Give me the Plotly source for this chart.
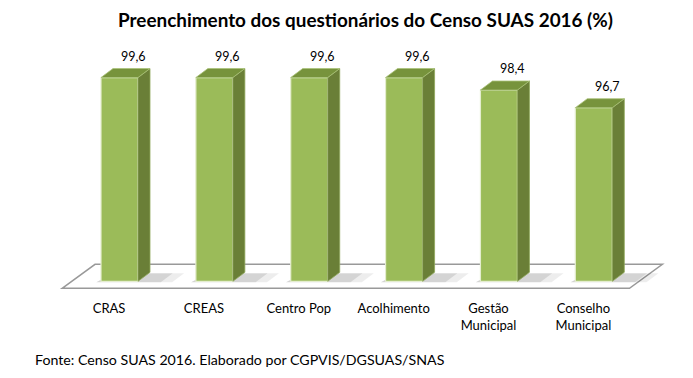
import plotly.graph_objects as go

categories = ["CRAS", "CREAS", "Centro Pop", "Acolhimento", "Gestão<br>Municipal", "Conselho<br>Municipal"]
values = [99.6, 99.6, 99.6, 99.6, 98.4, 96.7]
labels = ["99,6", "99,6", "99,6", "99,6", "98,4", "96,7"]
title = "Preenchimento dos questionários do Censo SUAS 2016 (%)"
source = "Fonte: Censo SUAS 2016. Elaborado por CGPVIS/DGSUAS/SNAS"

BASE = 80.0
HW = 0.195          # half width of bar front
DX = 0.1265         # depth offset (x units)
DY = 0.866          # depth offset (y units)
FRONT = "#9BBB59"
SIDE = "#6A7F37"
TOP = "#77933C"
FONT = "Lato"

xs = list(range(len(categories)))

fig = go.Figure()

# front faces
fig.add_trace(go.Bar(
    x=xs, y=[v - BASE for v in values], base=BASE, width=2 * HW,
    marker=dict(color=FRONT, line=dict(color="#E4EDCF", width=1.2)),
    hoverinfo="skip", showlegend=False,
))

# side and top faces
for i, v in zip(xs, values):
    fig.add_trace(go.Scatter(
        x=[i + HW, i + HW + DX, i + HW + DX, i + HW, i + HW],
        y=[BASE, BASE + DY, v + DY, v, BASE],
        fill="toself", fillcolor=SIDE, mode="lines",
        line=dict(color="#8FA85A", width=0.8),
        hoverinfo="skip", showlegend=False,
    ))
    fig.add_trace(go.Scatter(
        x=[i - HW, i - HW + DX, i + HW + DX, i + HW, i - HW],
        y=[v, v + DY, v + DY, v, v],
        fill="toself", fillcolor=TOP, mode="lines",
        line=dict(color="#A9C178", width=0.8),
        hoverinfo="skip", showlegend=False,
    ))

shapes = []
# floor
fx0, fx1 = xs[0] - 0.605, xs[-1] + 0.376
fyf, fyb = BASE - 0.67, BASE + 1.64
fdx = 0.347
shapes.append(dict(
    type="path", xref="x", yref="y", layer="below",
    path=f"M {fx0},{fyf} L {fx0+fdx},{fyb} L {fx1+fdx},{fyb} L {fx1},{fyf} Z",
    fillcolor="white", line=dict(color="#999999", width=1.5),
))
# soft shadows (two layers)
for i in xs:
    for ext, alpha in ((0.36, 0.07), (0.24, 0.10)):
        shapes.append(dict(
            type="path", xref="x", yref="y", layer="below",
            path=(f"M {i-HW-0.05},{BASE-0.1} L {i+HW+ext},{BASE-0.1} "
                  f"L {i+HW+ext+DX},{BASE+DY*0.9} L {i-HW+DX},{BASE+DY*0.9} Z"),
            fillcolor=f"rgba(0,0,0,{alpha})", line=dict(width=0),
        ))

annotations = []
for i, v, t in zip(xs, values, labels):
    annotations.append(dict(
        x=i + DX / 2 + 0.08, y=v + DY, text=t, showarrow=False,
        xref="x", yref="y", yanchor="bottom", yshift=3,
        font=dict(family=FONT, size=12.5, color="black"),
    ))
annotations.append(dict(
    x=24.7 / 683, y=-0.2118, xref="paper", yref="paper",
    xanchor="left", yanchor="middle", text=source, showarrow=False,
    font=dict(family=FONT, size=14.2, color="black"),
))

fig.update_layout(
    width=693, height=378,
    margin=dict(l=0, r=10, t=3, b=87),
    paper_bgcolor="white", plot_bgcolor="white",
    title=dict(text="<b>" + title + "</b>", x=357.5 / 683, xref="paper",
               xanchor="center", y=1 - 12 / 378, yanchor="middle",
               font=dict(family=FONT, size=18.9, color="black")),
    xaxis=dict(range=[-1.1754, 6.0246], tickvals=[x - 0.11 for x in xs], ticktext=categories,
               showgrid=False, zeroline=False, showline=False, ticks="",
               automargin=False,
               tickfont=dict(family=FONT, size=13, color="black")),
    yaxis=dict(range=[78.3, 106.0], showgrid=False, zeroline=False, showline=False,
               showticklabels=False, ticks="", automargin=False),
    shapes=shapes, annotations=annotations,
    showlegend=False,
)

fig.write_html("out.html")
